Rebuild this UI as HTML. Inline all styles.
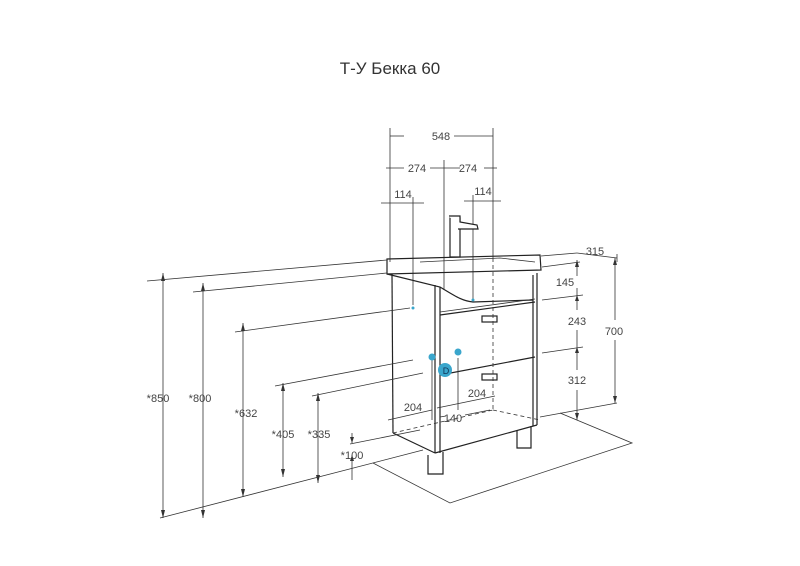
<!DOCTYPE html>
<html><head><meta charset="utf-8"><style>
html,body{margin:0;padding:0;background:#fff;width:800px;height:566px;overflow:hidden}
svg{display:block}
text{font-family:"Liberation Sans","DejaVu Sans",sans-serif;fill:#444;font-size:11px}
</style></head><body>
<svg width="800" height="566" viewBox="0 0 800 566" xmlns="http://www.w3.org/2000/svg">
<text x="390" y="74" text-anchor="middle" style="font-size:17px;fill:#333">Т-У Бекка 60</text>
<g stroke="#333" stroke-width="0.8" fill="none">
<line x1="390" y1="128" x2="390" y2="262"/><line x1="493" y1="128" x2="493" y2="258"/>
<line x1="390" y1="136" x2="404" y2="136"/><line x1="454" y1="136" x2="493" y2="136"/>
<line x1="444" y1="160" x2="444" y2="290"/>
<line x1="386" y1="168" x2="404" y2="168"/><line x1="430" y1="168" x2="460" y2="168"/><line x1="484" y1="168" x2="497" y2="168"/>
<line x1="381" y1="203" x2="424" y2="203"/><line x1="413" y1="197" x2="413" y2="305"/>
<line x1="464" y1="201" x2="501" y2="201"/><line x1="473" y1="195" x2="473" y2="300"/>
</g>
<g stroke="#222" stroke-width="1.2" fill="none">
<path d="M450 218 L460 218 L460 257 L450 257 Z" fill="#fff"/>
<path d="M449 216 L460 216 L460 222 L477 225 L478 229 L458 229" fill="#fff"/>
<path d="M387 259 L540 255 L541 270 L387 274 Z"/>
<path d="M387 274 L440 287 C455 296 462 301 473 302 L533 300"/>
<line x1="392" y1="274" x2="393" y2="433"/>
<line x1="435" y1="285" x2="435" y2="453"/><line x1="440" y1="287" x2="440" y2="453"/>
<line x1="537" y1="273" x2="537" y2="425"/><line x1="533" y1="275" x2="533" y2="426"/>
<line x1="393" y1="433" x2="435" y2="453"/>
<line x1="435" y1="453" x2="537" y2="425"/>
<line x1="440" y1="315" x2="535" y2="302"/>
<line x1="440" y1="375" x2="535" y2="357"/>
<rect x="482" y="316" width="15" height="6"/><rect x="482" y="374" width="15" height="6"/>
<path d="M428 455 L428 474 L443 474 L443 452"/>
<path d="M517 430 L517 448 L531 448 L531 426"/>
</g>
<g stroke="#333" stroke-width="0.8" fill="none">
<path d="M420 262 L500 258 L535 262"/>
<line x1="440" y1="312" x2="535" y2="299"/>
<path d="M373 463 L450 503 L632 443 L560 413"/>
<line x1="493" y1="258" x2="493" y2="410" stroke-dasharray="4 3"/>
<line x1="493" y1="410" x2="540" y2="420" stroke-dasharray="4 3"/>
<line x1="393" y1="433" x2="493" y2="410" stroke-dasharray="4 3"/>
<line x1="147" y1="281" x2="387" y2="260"/>
<line x1="163" y1="273" x2="163" y2="518"/>
<line x1="193" y1="292" x2="387" y2="273"/>
<line x1="203" y1="283" x2="203" y2="518"/>
<line x1="235" y1="332" x2="410" y2="308"/>
<line x1="243" y1="323" x2="243" y2="497"/>
<line x1="275" y1="386" x2="413" y2="360"/>
<line x1="283" y1="383" x2="283" y2="477"/>
<line x1="312" y1="396" x2="423" y2="373"/>
<line x1="318" y1="393" x2="318" y2="483"/>
<line x1="350" y1="444" x2="420" y2="430"/>
<line x1="352" y1="433" x2="352" y2="443"/><line x1="352" y1="455" x2="352" y2="480"/>
<line x1="160" y1="518" x2="423" y2="450"/>
<line x1="388" y1="420" x2="432" y2="410"/><line x1="437" y1="408" x2="495" y2="396"/>
<line x1="432" y1="360" x2="432" y2="420"/><line x1="458" y1="358" x2="458" y2="410"/>
<line x1="440" y1="417" x2="446" y2="416"/><line x1="465" y1="415" x2="490" y2="410"/>
<line x1="577" y1="253" x2="617" y2="258"/>
<line x1="541" y1="256" x2="577" y2="253"/>
<line x1="617" y1="254" x2="617" y2="262"/>
<line x1="615" y1="258" x2="615" y2="320"/><line x1="615" y1="340" x2="615" y2="403"/>
<line x1="577" y1="260" x2="577" y2="276"/><line x1="577" y1="288" x2="577" y2="310"/><line x1="577" y1="330" x2="577" y2="370"/><line x1="577" y1="390" x2="577" y2="420"/>
<line x1="542" y1="267" x2="580" y2="262"/>
<line x1="542" y1="300" x2="583" y2="295"/>
<line x1="542" y1="353" x2="583" y2="347"/>
<line x1="540" y1="417" x2="617" y2="403"/>
</g>
<g fill="#333">
<path d="M163 273 l-2 8 h4z"/><path d="M163 518 l-2 -8 h4z"/>
<path d="M203 283 l-2 8 h4z"/><path d="M203 518 l-2 -8 h4z"/>
<path d="M243 323 l-2 8 h4z"/><path d="M243 497 l-2 -8 h4z"/>
<path d="M283 383 l-2 8 h4z"/><path d="M283 477 l-2 -8 h4z"/>
<path d="M318 393 l-2 8 h4z"/><path d="M318 483 l-2 -8 h4z"/>
<path d="M352 443 l-2 -6 h4z"/><path d="M352 455 l-2 6 h4z"/>
<path d="M615 258 l-2 7 h4z"/><path d="M615 403 l-2 -7 h4z"/>
<path d="M577 260 l-2 7 h4z"/><path d="M577 420 l-2 -7 h4z"/><path d="M577 295 l-2 6 h4z"/><path d="M577 347 l-2 6 h4z"/>
</g>
<g fill="#3aa6cc"><circle cx="413" cy="308" r="1.5"/><circle cx="473" cy="300" r="1.5"/>
<circle cx="432" cy="357" r="3.5"/><circle cx="458" cy="352" r="3.5"/><circle cx="445" cy="370" r="7"/></g>
<text x="446" y="374" style="font-size:9px;fill:#135" text-anchor="middle">D</text>
<text x="441" y="140" text-anchor="middle">548</text>
<text x="417" y="172" text-anchor="middle">274</text>
<text x="468" y="172" text-anchor="middle">274</text>
<text x="403" y="198" text-anchor="middle">114</text>
<text x="483" y="195" text-anchor="middle">114</text>
<text x="595" y="255" text-anchor="middle">315</text>
<text x="565" y="286" text-anchor="middle">145</text>
<text x="577" y="325" text-anchor="middle">243</text>
<text x="577" y="384" text-anchor="middle">312</text>
<text x="614" y="335" text-anchor="middle">700</text>
<text x="413" y="411" text-anchor="middle">204</text>
<text x="477" y="397" text-anchor="middle">204</text>
<text x="453" y="422" text-anchor="middle">140</text>
<text x="158" y="402" text-anchor="middle">*850</text>
<text x="200" y="402" text-anchor="middle">*800</text>
<text x="246" y="417" text-anchor="middle">*632</text>
<text x="283" y="438" text-anchor="middle">*405</text>
<text x="319" y="438" text-anchor="middle">*335</text>
<text x="352" y="459" text-anchor="middle">*100</text>
</svg>
</body></html>
